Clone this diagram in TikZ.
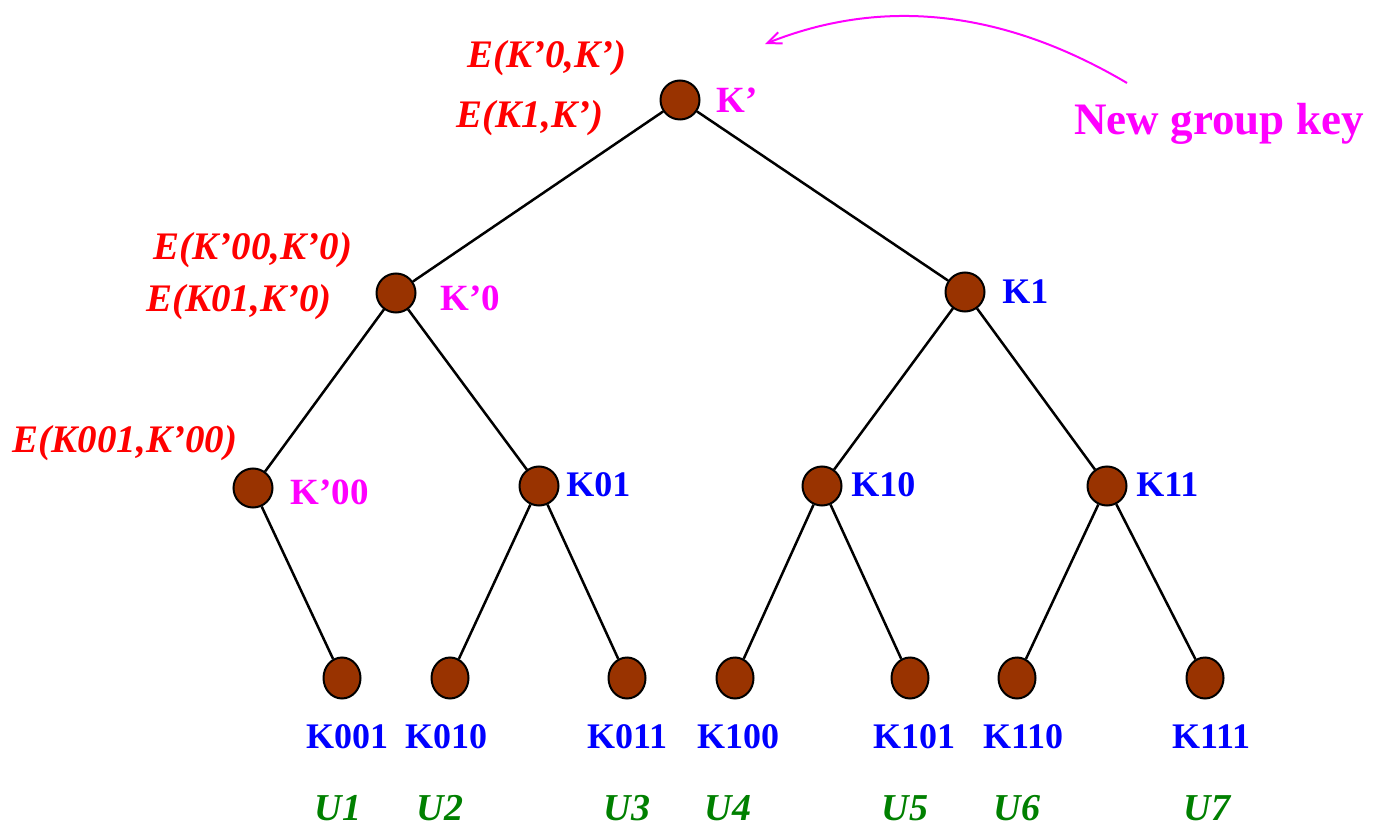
\documentclass[tikz,border=0pt]{standalone}
\usepackage{fontspec}
\setmainfont{Liberation Serif}
\usetikzlibrary{shapes.geometric,arrows.meta}
\definecolor{keybrown}{RGB}{153,51,0}
\definecolor{keyblue}{RGB}{0,0,255}
\definecolor{keymag}{RGB}{255,0,255}
\definecolor{keyred}{RGB}{255,0,0}
\definecolor{keygreen}{RGB}{0,128,0}
\tikzset{
  keynode/.style={circle,draw=black,line width=1pt,fill=keybrown,minimum size=19.5pt,inner sep=0pt},
  leafnode/.style={ellipse,draw=black,line width=1pt,fill=keybrown,minimum width=18.5pt,minimum height=20.5pt,inner sep=0pt},
  edge/.style={line width=1.25pt,black},
  enc/.style={text=keyred,font=\fontsize{19.5}{22}\selectfont\bfseries\itshape,inner sep=0pt},
  oldkey/.style={text=keyblue,font=\fontsize{18}{21}\selectfont\bfseries,inner sep=0pt},
  newkey/.style={text=keymag,font=\fontsize{18.5}{21}\selectfont\bfseries,inner sep=0pt},
  user/.style={text=keygreen,font=\fontsize{19}{22}\selectfont\bfseries\itshape,inner sep=0pt},
}
\begin{document}
\begin{tikzpicture}[x=0.5pt,y=-0.5pt]
\useasboundingbox (0,0) rectangle (1385,828);
% nodes
\node[keynode] (r) at (680,100) {};
\node[keynode] (k0) at (396,293) {};
\node[keynode] (k1) at (965,292) {};
\node[keynode] (k00) at (253,488) {};
\node[keynode] (k01) at (539,486) {};
\node[keynode] (k10) at (822,486) {};
\node[keynode] (k11) at (1107,486) {};
\node[leafnode] (l1) at (342,678) {};
\node[leafnode] (l2) at (450,678) {};
\node[leafnode] (l3) at (627,678) {};
\node[leafnode] (l4) at (735,678) {};
\node[leafnode] (l5) at (910,678) {};
\node[leafnode] (l6) at (1017,678) {};
\node[leafnode] (l7) at (1205,678) {};
% edges
\draw[edge] (r) -- (k0);
\draw[edge] (r) -- (k1);
\draw[edge] (k0) -- (k00);
\draw[edge] (k0) -- (k01);
\draw[edge] (k1) -- (k10);
\draw[edge] (k1) -- (k11);
\draw[edge] (k00) -- (l1);
\draw[edge] (k01) -- (l2);
\draw[edge] (k01) -- (l3);
\draw[edge] (k10) -- (l4);
\draw[edge] (k10) -- (l5);
\draw[edge] (k11) -- (l6);
\draw[edge] (k11) -- (l7);
% key labels
\node[newkey,anchor=west] (tr) at (716,100) {K’};
\node[newkey,anchor=west] (tk0) at (440,298) {K’0};
\node[oldkey,anchor=west] (tk1) at (1002,292) {K1};
\node[newkey,anchor=west] (tk00) at (290,492) {K’00};
\node[oldkey,anchor=west] (tk01) at (566,485) {K01};
\node[oldkey,anchor=west] (tk10) at (851,485) {K10};
\node[oldkey,anchor=west] (tk11) at (1136,485) {K11};
\node[oldkey] (tl1) at (347,737) {K001};
\node[oldkey] (tl2) at (446,737) {K010};
\node[oldkey] (tl3) at (627,737) {K011};
\node[oldkey] (tl4) at (738,737) {K100};
\node[oldkey] (tl5) at (914,737) {K101};
\node[oldkey] (tl6) at (1023,737) {K110};
\node[oldkey] (tl7) at (1211,737) {K111};
% users
\node[user] (u1) at (338,808) {U1};
\node[user] (u2) at (440,808) {U2};
\node[user] (u3) at (627,808) {U3};
\node[user] (u4) at (728,808) {U4};
\node[user] (u5) at (905,808) {U5};
\node[user] (u6) at (1017,808) {U6};
\node[user] (u7) at (1207,808) {U7};
% encryptions
\node[enc] (e1) at (547,58) {E(K’0,K’)};
\node[enc] (e2) at (530,118) {E(K1,K’)};
\node[enc] (e3) at (253,250) {E(K’00,K’0)};
\node[enc] (e4) at (239,302) {E(K01,K’0)};
\node[enc] (e5) at (125,443) {E(K001,K’00)};
% annotation
\node[text=keymag,font=\fontsize{22.5}{25}\selectfont\bfseries,inner sep=0pt] (ng) at (1219,124) {New group key};
\coordinate (as) at (1127,83);
\coordinate (at) at (765,44);
\draw[keymag,line width=1pt,-{Straight Barb[length=7pt,width=6pt]}] (as) .. controls (1000,8) and (880,-2) .. (at);
\end{tikzpicture}
\end{document}
